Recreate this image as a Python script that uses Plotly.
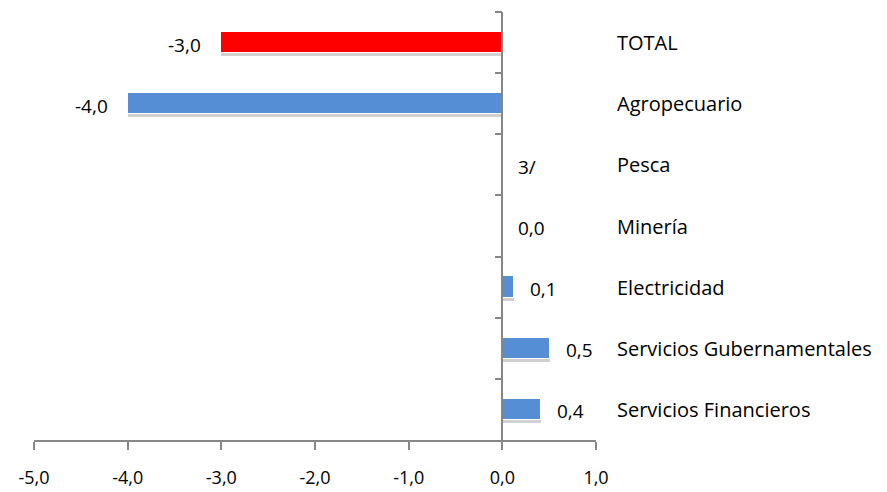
import plotly.graph_objects as go

categories = ["TOTAL", "Agropecuario", "Pesca", "Minería", "Electricidad",
              "Servicios Gubernamentales", "Servicios Financieros"]
values = [-3.0, -4.0, None, 0.0, 0.12, 0.51, 0.41]
value_labels = ["-3,0", "-4,0", "3/", "0,0", "0,1", "0,5", "0,4"]
bar_colors = ["#FF0000", "#558ED5", "#558ED5", "#558ED5", "#558ED5", "#558ED5", "#558ED5"]
x_ticks = [-5, -4, -3, -2, -1, 0, 1]
x_tick_labels = ["-5,0", "-4,0", "-3,0", "-2,0", "-1,0", "0,0", "1,0"]

FONT = "'Open Sans', sans-serif"
BW = 0.35

fig = go.Figure()
# soft shadow
fig.add_trace(go.Bar(
    y=categories, x=values, orientation="h",
    marker=dict(color="rgba(0,0,0,0.18)", line=dict(width=0)),
    width=BW, offset=-BW / 2 + 0.05, hoverinfo="skip", showlegend=False,
))
fig.add_trace(go.Bar(
    y=categories, x=values, orientation="h",
    marker=dict(color=bar_colors, line=dict(color="white", width=1)),
    width=BW, offset=-BW / 2, showlegend=False,
))

annotations = []
for cat, v, lab in zip(categories, values, value_labels):
    xv = 0 if v is None else v
    neg = xv < 0
    annotations.append(dict(
        x=xv, y=cat, xref="x", yref="y", text=lab, showarrow=False,
        xanchor="right" if neg else "left", xshift=-18 if neg else 14, yshift=-2,
        font=dict(family=FONT, size=19, color="#000000"),
    ))
    annotations.append(dict(
        x=1, y=cat, xref="paper", yref="y", text=cat, showarrow=False,
        xanchor="left", xshift=19, yshift=0,
        font=dict(family=FONT, size=20, color="#000000"),
    ))

fig.update_layout(
    width=887, height=492,
    margin=dict(l=34, r=291, t=12, b=52),
    paper_bgcolor="white", plot_bgcolor="white",
    barmode="overlay", bargap=0,
    annotations=annotations,
    font=dict(family=FONT, size=17, color="#000000"),
    xaxis=dict(
        range=[-5, 1], tickvals=x_ticks, ticktext=x_tick_labels,
        showgrid=False, zeroline=False, automargin=False,
        showline=True, linecolor="#878787", linewidth=1.5,
        ticks="outside", ticklen=8, tickcolor="#878787", tickwidth=1.5,
        ticklabelstandoff=13,
        tickfont=dict(family=FONT, size=18, color="#000000"),
    ),
    yaxis=dict(
        categoryorder="array", categoryarray=categories, autorange="reversed",
        anchor="free", position=5 / 6, side="left", automargin=False,
        showline=True, linecolor="#878787", linewidth=1.5,
        ticks="outside", tickson="boundaries", ticklen=7, tickcolor="#878787", tickwidth=1.5,
        showticklabels=False, showgrid=False, zeroline=False,
    ),
)

fig.write_html(
    "out.html",
    config={"displayModeBar": False},
    post_script="document.body.style.margin='0';document.body.style.overflow='hidden';",
)
